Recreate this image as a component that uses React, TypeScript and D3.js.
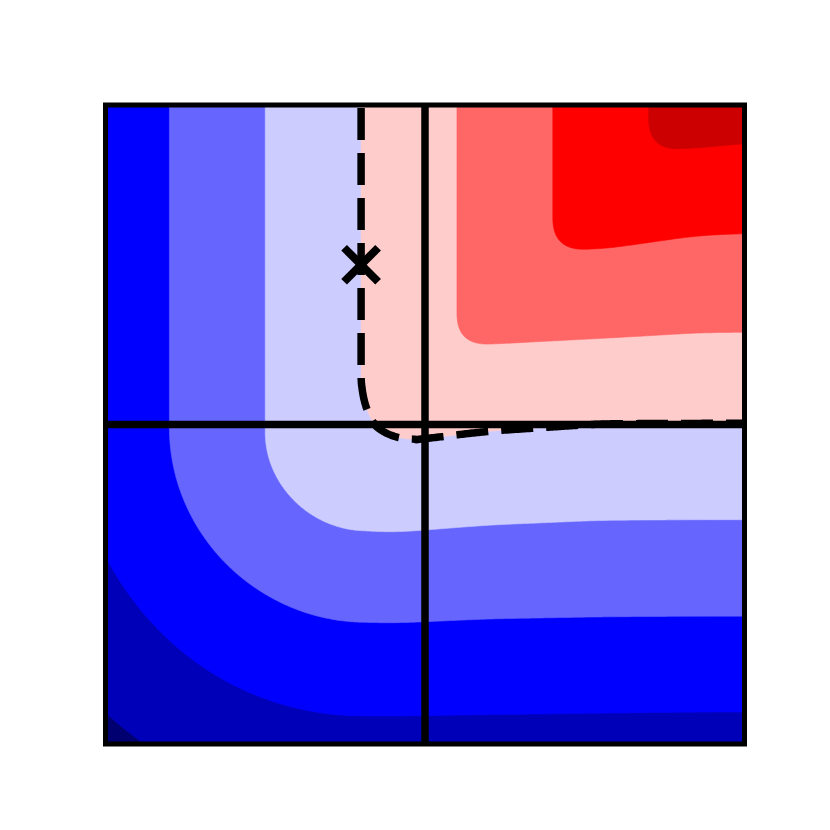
import React, { useMemo } from 'react';
import * as d3 from 'd3';

// contour levels (band lower bounds) and their fill colours
const levels = [-1.5, -1.2, -0.9, -0.6, -0.3, 0, 0.3, 0.6, 0.9, 1.2];
const bandColors = ['#000070', '#0000b8', '#0000ff', '#6666ff', '#ccccff', '#ffcccc', '#ff6666', '#ff0000', '#cc0000', '#8c0000'];

// corner of the quadrant-shaped field
const cornerX = -0.2;
const cornerY = 0.0;
const roundInner = 0.1;
const roundZero = 0.21;

// small distortion of the horizontal contours (rows: y ascending)
const dipGridX = [-1, -0.5, -0.1, 0.2, 0.55, 0.85, 1];
const dipGridY = [-1, -0.6, -0.3, 0, 0.3, 0.6, 0.9];
const dipRows = [
  [0.01, 0.01, 0.01, 0.008, 0.004, 0, 0],
  [0, 0.01, 0.022, 0.008, 0.002, 0, 0],
  [0, 0.015, 0.04, 0.015, 0.0, -0.002, -0.002],
  [0, 0.025, 0.06, 0.02, -0.005, -0.005, -0.005],
  [0, 0.02, 0.05, 0.055, 0.035, 0.015, 0.013],
  [0, 0.02, 0.05, 0.055, 0.055, 0.007, 0],
  [0, 0.02, 0.04, 0.045, 0.045, 0.04, 0.022],
];

const markerPoint = { x: -0.2, y: 0.5 };

const W = 830;
const H = 830;
const PX0 = 105.5, PX1 = 744.5, PY0 = 105, PY1 = 744;

const xScale = d3.scaleLinear().domain([-1, 1]).range([PX0, PX1]);
const yScale = d3.scaleLinear().domain([-1, 1]).range([PY1, PY0]);
const gxIdx = d3.scaleLinear().domain(dipGridX).range(d3.range(dipGridX.length)).clamp(true);
const gyIdx = d3.scaleLinear().domain(dipGridY).range(d3.range(dipGridY.length)).clamp(true);

function dipBilinear(x: number, y: number) {
  const fx = gxIdx(x), fy = gyIdx(y);
  const i0 = Math.min(Math.floor(fx), dipGridX.length - 2);
  const j0 = Math.min(Math.floor(fy), dipGridY.length - 2);
  const tx = fx - i0, ty = fy - j0;
  const a = dipRows[j0][i0] * (1 - tx) + dipRows[j0][i0 + 1] * tx;
  const b = dipRows[j0 + 1][i0] * (1 - tx) + dipRows[j0 + 1][i0 + 1] * tx;
  return a * (1 - ty) + b * ty;
}

function boxBlur(a: Float64Array, n: number, r: number) {
  const tmp = new Float64Array(n * n);
  const w = 2 * r + 1;
  for (let j = 0; j < n; j++) {
    for (let i = 0; i < n; i++) {
      let s = 0;
      for (let k = -r; k <= r; k++) {
        const ii = Math.min(n - 1, Math.max(0, i + k));
        s += a[j * n + ii];
      }
      tmp[j * n + i] = s / w;
    }
  }
  for (let j = 0; j < n; j++) {
    for (let i = 0; i < n; i++) {
      let s = 0;
      for (let k = -r; k <= r; k++) {
        const jj = Math.min(n - 1, Math.max(0, j + k));
        s += tmp[jj * n + i];
      }
      a[j * n + i] = s / w;
    }
  }
}

function field(x: number, y: number, d: number) {
  const u = x - cornerX;
  const v = y - cornerY + d;
  if (u > 0 && v > 0) {
    const m = Math.min(u, v);
    const k = roundInner + (roundZero - roundInner) * Math.max(0, 1 - m / 0.25);
    const h = Math.max(k - Math.abs(u - v), 0) / k;
    return m - (h * h * k) / 4;
  }
  const a = Math.max(-u, 0), b = Math.max(-v, 0);
  return -Math.sqrt(a * a + b * b);
}

const EXT = 1.1;
const N = 440;
const STEP = (2 * EXT) / N;

export default function App() {
  const { paths, zeroPath } = useMemo(() => {
    const dipArr = new Float64Array(N * N);
    for (let j = 0; j < N; j++) {
      const y = EXT - (j + 0.5) * STEP;
      for (let i = 0; i < N; i++) {
        const x = -EXT + (i + 0.5) * STEP;
        dipArr[j * N + i] = dipBilinear(x, y);
      }
    }
    boxBlur(dipArr, N, 10);
    boxBlur(dipArr, N, 10);
    const values = new Float64Array(N * N);
    for (let j = 0; j < N; j++) {
      const y = EXT - (j + 0.5) * STEP;
      for (let i = 0; i < N; i++) {
        const x = -EXT + (i + 0.5) * STEP;
        values[j * N + i] = field(x, y, dipArr[j * N + i]);
      }
    }
    const contours = d3.contours().size([N, N]).thresholds(levels)(values as any);
    const proj = d3.geoTransform({
      point: function (gx: number, gy: number) {
        (this as any).stream.point(xScale(-EXT + gx * STEP), yScale(EXT - gy * STEP));
      },
    });
    const gp = d3.geoPath(proj);
    const paths = contours.map((c) => gp(c as any) || '');

    // zero contour line inside the frame
    const zero = contours[levels.indexOf(0)];
    const inside = (p: number[]) => Math.abs(p[0]) <= 1 && Math.abs(p[1]) <= 1;
    const clipPt = (pin: number[], pout: number[]) => {
      let t = 1;
      for (let c = 0; c < 2; c++) {
        const d = pout[c] - pin[c];
        if (pout[c] > 1) t = Math.min(t, (1 - pin[c]) / d);
        if (pout[c] < -1) t = Math.min(t, (-1 - pin[c]) / d);
      }
      return [pin[0] + t * (pout[0] - pin[0]), pin[1] + t * (pout[1] - pin[1])];
    };
    let best: number[][] = [];
    for (const poly of zero.coordinates) {
      for (const ring of poly) {
        const pts = ring.map((p) => [-EXT + p[0] * STEP, EXT - p[1] * STEP]);
        const k0 = pts.findIndex((p) => !inside(p));
        if (k0 < 0) continue;
        const rot = pts.slice(k0).concat(pts.slice(0, k0));
        let run: number[][] = [];
        for (let k = 0; k < rot.length; k++) {
          const p = rot[k];
          if (inside(p)) {
            if (run.length === 0) run.push(clipPt(p, rot[k - 1]));
            run.push(p);
          } else if (run.length) {
            run.push(clipPt(run[run.length - 1], p));
            if (run.length > best.length) best = run;
            run = [];
          }
        }
        if (run.length > best.length) best = run;
      }
    }
    if (best.length && best[0][1] < best[best.length - 1][1]) best.reverse();
    const line = d3.line<number[]>().x((d) => xScale(d[0])).y((d) => yScale(d[1]));
    return { paths, zeroPath: line(best) || '' };
  }, []);

  const mx = xScale(markerPoint.x), my = yScale(markerPoint.y);
  const ms = 17;

  return (
    <svg width={W} height={H} style={{ position: 'absolute', left: 0, top: 0, background: '#fff' }}>
      <defs>
        <clipPath id="plotclip">
          <rect x={PX0} y={PY0} width={PX1 - PX0} height={PY1 - PY0} />
        </clipPath>
      </defs>
      <g clipPath="url(#plotclip)">
        {paths.map((d, k) => (
          <path key={k} d={d} fill={bandColors[k]} stroke={bandColors[k]} strokeWidth={0.6} />
        ))}
        <path d={zeroPath} fill="none" stroke="#000" strokeWidth={7.5} strokeDasharray="32,13" strokeDashoffset={-3} />
        <line x1={xScale(0)} x2={xScale(0)} y1={PY0} y2={PY1} stroke="#000" strokeWidth={7.5} />
        <line x1={PX0} x2={PX1} y1={yScale(0)} y2={yScale(0)} stroke="#000" strokeWidth={7.5} />
      </g>
      <g stroke="#000" strokeWidth={8}>
        <line x1={mx - ms} y1={my - ms} x2={mx + ms} y2={my + ms} />
        <line x1={mx - ms} y1={my + ms} x2={mx + ms} y2={my - ms} />
      </g>
      <rect x={PX0} y={PY0} width={PX1 - PX0} height={PY1 - PY0} fill="none" stroke="#000" strokeWidth={5} />
    </svg>
  );
}
